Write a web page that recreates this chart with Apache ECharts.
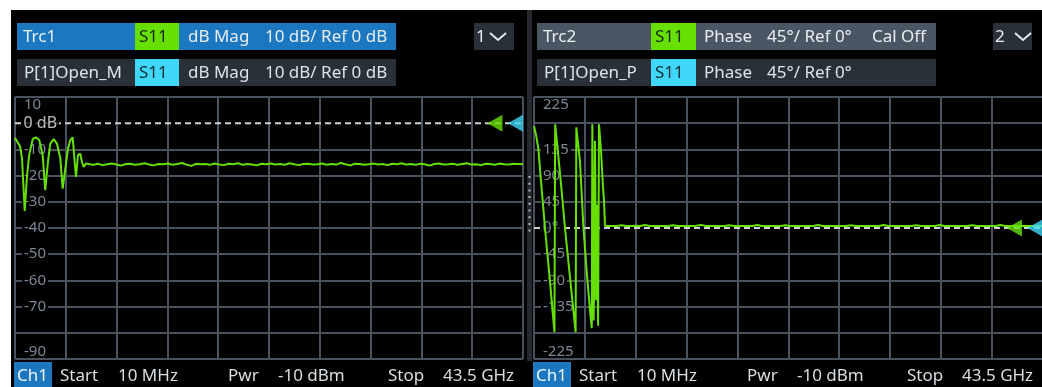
<!DOCTYPE html>
<html>
<head>
<meta charset="utf-8">
<script src="https://cdn.jsdelivr.net/npm/echarts@6/dist/echarts.min.js"></script>
<style>
  html, body { margin: 0; padding: 0; background: #ffffff; }
  #screen { position: absolute; left: 11px; top: 10px; width: 1031px; height: 377px; background: #000; }
</style>
</head>
<body>
<div id="screen"></div>
<script>
// ---- Sweep setup (GHz) ----
const F_START = 0.01;
const F_STOP = 43.5;

// ---- Trc1: S11 dB magnitude ----
// ripple region near the start of the sweep
const magRippleGHz = [0.01, 0.46, 0.61, 0.84, 1.04, 1.23, 1.53, 1.81, 2.09, 2.38, 2.60, 2.83, 3.03, 3.32,
  3.60, 3.89, 4.09, 4.32, 4.55, 4.74, 4.95, 5.12, 5.23, 5.40, 5.60, 5.74, 5.89, 6.09];
const magRippleDb = [-5.6, -9.0, -13.4, -33.5, -20.0, -12.0, -6.0, -5.4, -6.5, -12.2, -25.6, -14.8, -7.8, -6.1,
  -7.8, -13.5, -25.0, -17.3, -9.7, -6.5, -5.4, -14.8, -20.5, -12.2, -11.6, -14.8, -16.7, -15.4];
// settled region, evenly spaced sweep points from 6.3 GHz to the stop frequency
const magFlatStartGHz = 6.3;
const magFlatDb = [
  -15.6, -15.9, -15.5, -16.0, -15.7, -15.4, -15.8, -16.2, -15.6, -15.5,
  -15.9, -15.7, -15.3, -15.8, -16.1, -15.6, -15.7, -15.4, -15.9, -15.6,
  -15.2, -15.8, -16.3, -15.5, -15.7, -15.6, -15.9, -15.4, -15.8, -16.0,
  -15.5, -15.7, -15.3, -15.9, -15.6, -15.8, -16.1, -15.5, -15.7, -15.4,
  -15.8, -15.6, -15.9, -15.3, -15.7, -16.0, -15.6, -15.5, -15.8, -15.7,
  -15.4, -15.9, -15.6, -15.8, -15.2, -15.7, -16.1, -15.5, -15.6, -15.9,
  -15.7, -15.4, -15.8, -15.6, -16.0, -15.5, -15.7, -15.3, -15.8, -15.6,
  -15.9, -15.5, -15.7, -16.2, -15.6, -15.4, -15.8, -15.7, -15.5, -15.9,
  -15.6, -15.3, -15.8, -15.7, -16.0, -15.5, -15.6, -15.9, -15.4, -15.7,
  -15.8, -15.5, -15.6, -15.7];

// ---- Trc2: S11 phase (wrapped, degrees) ----
const phaseRippleGHz = [0.01, 0.18, 0.38, 0.61, 0.95, 1.38, 1.76, 1.82, 2.23, 2.66, 3.09, 3.57, 3.63, 3.94,
  4.24, 4.54, 4.84, 4.95, 5.00, 5.06, 5.11, 5.18, 5.23, 5.32, 5.40, 5.49, 5.57, 5.74, 5.91, 6.00, 6.08];
const phaseRippleDeg = [175, 160, 137, 80, 0, -93, -179, 178, 95, 0, -85, -179, 173, 115,
  0, -80, -150, -172, 178, 47, -159, -60, 150, -124, 40, -168, 178, 133, 71, 47, 4];
const phaseFlatStartGHz = 6.3;
const phaseFlatDeg = [
  3.4, 3.6, 3.3, 4.8, 3.5, 3.4, 3.7, 3.3, 5.2, 3.5,
  3.4, 3.6, 3.5, 3.3, 4.9, 3.4, 3.6, 3.5, 3.4, 3.7,
  5.4, 3.5, 3.3, 3.6, 3.4, 3.5, 4.6, 3.4, 3.6, 3.3,
  3.5, 3.4, 5.1, 3.6, 3.5, 3.4, 3.3, 3.6, 4.7, 3.5,
  3.4, 3.6, 3.5, 3.3, 3.4, 5.3, 3.5, 3.6, 3.4, 3.5,
  3.3, 3.6, 4.8, 3.4, 3.5, 3.5, 3.6, 3.3, 3.4, 5.0,
  3.5, 3.4, 3.6, 3.5, 3.3, 3.4, 4.6, 3.5, 3.6, 3.4,
  3.5, 5.2, 3.3, 3.6, 3.4, 3.5, 3.4, 3.6, 4.9, 3.5,
  3.3, 3.4, 3.6, 3.5, 5.1, 3.4, 3.5, 3.6, 3.3, 3.5,
  3.4, 3.6, 3.5, 3.4];

// ---- Scales ----
const magAxis = { min: -90, max: 10, step: 10, ref: 0, hidden: [0, -80] };
const phaseAxis = { min: -225, max: 225, step: 45, ref: 0, hidden: [0, 180, -180] };
const refMarkerGHz = [41.1, 42.85];   // data-trace and memory-trace reference arrows

// ---- Header / footer text ----
const leftHeader = { trace: 'Trc1', mem: 'P[1]Open_M', param: 'S11', fmt: 'dB Mag', scale: '10 dB/ Ref 0 dB', extra: '' };
const rightHeader = { trace: 'Trc2', mem: 'P[1]Open_P', param: 'S11', fmt: 'Phase', scale: '45°/ Ref 0°', extra: 'Cal Off' };
const footerItems = ['Start', '10 MHz', 'Pwr', '-10 dBm', 'Stop', '43.5 GHz'];

// ---- Styling ----
const FONT = '"Noto Sans", "Open Sans", sans-serif';
const GRID = '#48535f';
const LABEL = '#7b8794';
const TRACE = '#66e000';
const MEMORY = '#40d8f8';
const BLUE = '#1b77bf';
const DARK_BOX = '#2a3038';
const SLATE = '#4a5663';

function sweep(startGHz, values) {
  const step = (F_STOP - startGHz) / (values.length - 1);
  return values.map((v, i) => [startGHz + i * step, v]);
}
function pairs(xs, ys) { return xs.map((x, i) => [x, ys[i]]); }

const magData = pairs(magRippleGHz, magRippleDb).concat(sweep(magFlatStartGHz, magFlatDb));
const phaseData = pairs(phaseRippleGHz, phaseRippleDeg).concat(sweep(phaseFlatStartGHz, phaseFlatDeg));

function splitColors(ax) {
  const out = [];
  for (let v = ax.min; v <= ax.max; v += ax.step) out.push(v === ax.ref ? 'rgba(0,0,0,0)' : GRID);
  return out;
}
function tickLabel(ax) {
  return function (v) {
    if (ax.hidden.indexOf(v) >= 0) return '';
    if (v === ax.min || v === ax.max) return '{edge|' + v + '}';
    return '{n|' + v + '}';
  };
}
const labelRich = {
  n: { color: LABEL, fontSize: 15, fontFamily: FONT, backgroundColor: '#000', padding: [1, 2] },
  edge: { color: LABEL, fontSize: 15, fontFamily: FONT, padding: [0, 2] }
};

function yAxisFor(gridIndex, ax) {
  return {
    gridIndex, type: 'value', min: ax.min, max: ax.max, interval: ax.step,
    axisLine: { show: false }, axisTick: { show: false },
    splitLine: { show: true, lineStyle: { color: splitColors(ax), width: 2 } },
    axisLabel: {
      inside: true, margin: 7, formatter: tickLabel(ax), rich: labelRich,
      verticalAlignMaxLabel: 'top', verticalAlignMinLabel: 'bottom'
    }
  };
}
function freqAxis(gridIndex) {
  return { gridIndex, type: 'value', min: F_START, max: F_STOP, show: false };
}
function divisionAxis(gridIndex) {
  return {
    gridIndex, type: 'value', min: 0, max: 10, interval: 1,
    axisLine: { show: false }, axisTick: { show: false }, axisLabel: { show: false },
    splitLine: { show: true, lineStyle: { color: GRID, width: 2 } }
  };
}

function diagramSeries(axisIdx, ax, data, text, textColor) {
  const yIdx = axisIdx / 2;
  return [
    {
      type: 'line', xAxisIndex: axisIdx, yAxisIndex: yIdx, z: 1, silent: true,
      data: [[F_START, ax.ref], [F_STOP, ax.ref]], symbol: 'none',
      lineStyle: { color: '#cfd2d5', width: 2, type: [6, 4] }
    },
    {
      type: 'scatter', xAxisIndex: axisIdx, yAxisIndex: yIdx, z: 2, silent: true,
      data: [[F_START, ax.ref]], symbolSize: 1, itemStyle: { color: 'rgba(0,0,0,0)' },
      label: {
        show: true, position: 'right', distance: 6, formatter: text,
        color: textColor, fontSize: 16, fontFamily: FONT, backgroundColor: '#000', padding: [1, 2]
      }
    },
    {
      type: 'line', xAxisIndex: axisIdx, yAxisIndex: yIdx, z: 3, silent: true,
      data: data, symbol: 'none',
      lineStyle: { color: TRACE, width: 2 }
    },
    {
      type: 'scatter', xAxisIndex: axisIdx, yAxisIndex: yIdx, z: 4, silent: true,
      data: [[refMarkerGHz[0], ax.ref]], symbol: 'triangle', symbolRotate: 90, symbolSize: [17, 15],
      itemStyle: { color: TRACE }
    },
    {
      type: 'scatter', xAxisIndex: axisIdx, yAxisIndex: yIdx, z: 4, silent: true,
      data: [[refMarkerGHz[1], ax.ref]], symbol: 'triangle', symbolRotate: 90, symbolSize: [17, 15],
      itemStyle: { color: MEMORY }
    }
  ];
}

// ---- Graphic helpers (coordinates inside the black screen area) ----
function rect(x, y, w, h, fill) {
  return { type: 'rect', silent: true, shape: { x, y, width: w, height: h }, style: { fill } };
}
function text(x, y, s, fill, size) {
  return {
    type: 'text', silent: true, x, y,
    style: { text: s, fill, font: (size || 17) + 'px ' + FONT, align: 'left', verticalAlign: 'middle',
      textAlign: 'left', textVerticalAlign: 'middle' }
  };
}
function chevron(x, y) {
  return {
    type: 'polyline', silent: true,
    shape: { points: [[x, y], [x + 8, y + 7], [x + 16, y]] },
    style: { stroke: '#e4e9ee', lineWidth: 2, fill: null }
  };
}

// pos: x offsets of [parameter box, format text, scale text, extra text] from the row start
function header(x0, h, rowWidth, sel, pos, selW) {
  const els = [];
  const txtCol = '#e9eef3';
  const memCol = '#dde3e9';
  // active trace row
  els.push(rect(x0, 13, rowWidth, 27, sel));
  els.push(text(x0 + 6, 27, h.trace, txtCol));
  els.push(rect(x0 + pos[0], 13, selW, 27, TRACE));
  els.push(text(x0 + pos[0] + 4, 27, h.param, '#17280a'));
  els.push(text(x0 + pos[1], 27, h.fmt, txtCol));
  els.push(text(x0 + pos[2], 27, h.scale, txtCol));
  if (h.extra) els.push(text(x0 + pos[3], 27, h.extra, txtCol));
  // memory trace row
  els.push(rect(x0, 49, rowWidth, 27, DARK_BOX));
  els.push(text(x0 + 7, 63, h.mem, memCol));
  els.push(rect(x0 + pos[0], 49, selW, 27, MEMORY));
  els.push(text(x0 + pos[0] + 4, 63, h.param, '#0d2b36'));
  els.push(text(x0 + pos[1], 63, h.fmt, memCol));
  els.push(text(x0 + pos[2], 63, h.scale, memCol));
  return els;
}

function footer(x0) {
  const col = '#d9dee3';
  const offs = [46, 104, 214, 264, 374, 429];
  const els = [rect(x0, 352, 38, 25, BLUE), text(x0 + 3, 366, 'Ch1', '#eef4fa')];
  footerItems.forEach((s, i) => els.push(text(x0 + offs[i], 366, s, col)));
  return els;
}

const graphics = []
  .concat(header(6, leftHeader, 379, BLUE, [118, 171, 248, 0], 44))
  .concat(header(526, rightHeader, 399, SLATE, [114, 167, 230, 335], 45))
  .concat([
    rect(463, 13, 40, 27, DARK_BOX), text(465, 27, '1', '#e9eef3'), chevron(479, 23),
    rect(982, 13, 39, 27, DARK_BOX), text(984, 27, '2', '#e9eef3'), chevron(1004, 23),
    // splitter between the two diagrams
    rect(516, 0, 5, 351, '#262a2f'),
    { type: 'line', silent: true, shape: { x1: 518.5, y1: 166, x2: 518.5, y2: 223 },
      style: { stroke: '#b9bdc1', lineWidth: 2, lineDash: [2, 4.7] } }
  ])
  .concat(footer(3))
  .concat(footer(522));

const chart = echarts.init(document.getElementById('screen'), null, { renderer: 'canvas' });
chart.setOption({
  backgroundColor: '#000',
  animation: false,
  grid: [
    { left: 4, top: 87, width: 508, height: 262, outerBoundsMode: 'none' },
    { left: 523, top: 87, width: 508.5, height: 262, outerBoundsMode: 'none' }
  ],
  xAxis: [freqAxis(0), divisionAxis(0), freqAxis(1), divisionAxis(1)],
  yAxis: [yAxisFor(0, magAxis), yAxisFor(1, phaseAxis)],
  series: [].concat(
    diagramSeries(0, magAxis, magData, '0 dB', '#e6e8ea'),
    diagramSeries(2, phaseAxis, phaseData, '0°', '#7e96b2')),
  graphic: { elements: graphics }
});
</script>
</body>
</html>
